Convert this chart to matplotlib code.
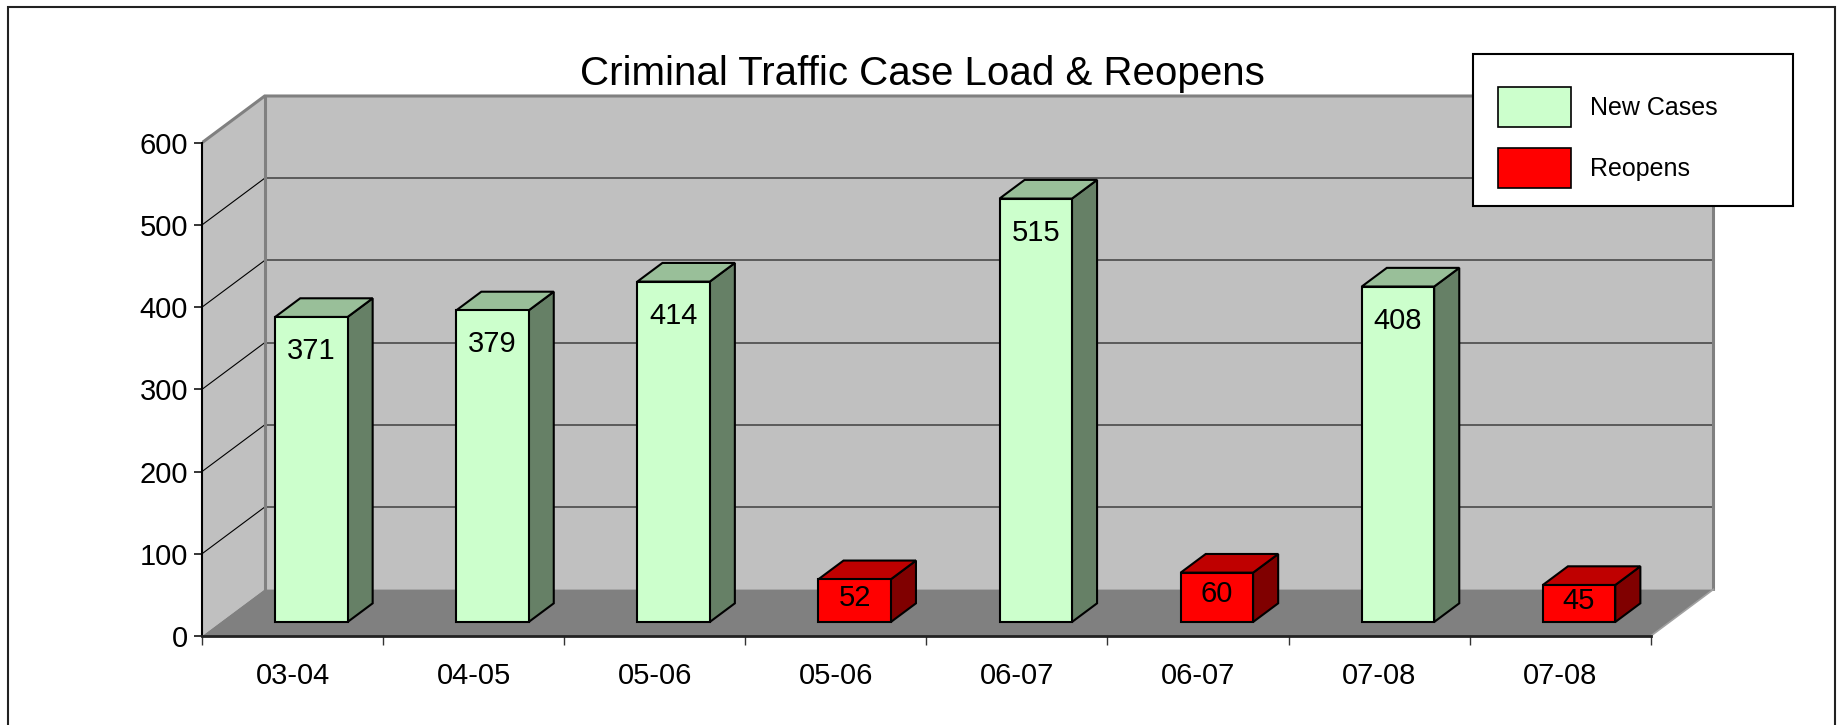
import matplotlib
matplotlib.use("Agg")
import matplotlib.pyplot as plt
from matplotlib.patches import Polygon, Rectangle, Patch

# ---------------- data ----------------
categories = ["03-04", "04-05", "05-06", "05-06", "06-07", "06-07", "07-08", "07-08"]
values = [371, 379, 414, 52, 515, 60, 408, 45]
series = ["New Cases", "New Cases", "New Cases", "Reopens",
          "New Cases", "Reopens", "New Cases", "Reopens"]
series_names = ["New Cases", "Reopens"]
y_ticks = [0, 100, 200, 300, 400, 500, 600]
title = "Criminal Traffic Case Load & Reopens"

# ---------------- styles ----------------
FACES = {"New Cases": ("#CCFFCC", "#99BF99", "#668066"),
         "Reopens": ("#FF0000", "#BF0000", "#800000")}
WALL = "#C0C0C0"
FLOOR = "#808080"
EDGE_GRAY = "#808080"

W, H, DPI = 1837, 725, 100
plt.rcParams["font.family"] = ["Liberation Sans", "DejaVu Sans"]

fig = plt.figure(figsize=(W / DPI, H / DPI), dpi=DPI)
fig.patch.set_facecolor("white")

# layout (pixels)
AX_LEFT_PX, AX_BOTTOM_PX = 202, 89
CAT_PX = 181.1
UNIT_PX = 493.3 / 600
XMAX, YMAX = 8.6, 660
ax = fig.add_axes([AX_LEFT_PX / W, AX_BOTTOM_PX / H,
                   XMAX * CAT_PX / W, YMAX * UNIT_PX / H])
ax.set_xlim(0, XMAX)
ax.set_ylim(0, YMAX)
ax.patch.set_visible(False)

DX = 62.7 / CAT_PX      # depth shift in category units
DY = 46.7 / UNIT_PX     # depth shift in value units
BAR_W = 0.4
Z0, Z1 = 0.3, 0.7

def proj(x, v, z):
    return (x + z * DX, v + z * DY)

n = len(categories)
vmax = y_ticks[-1]

# walls
side = Polygon([proj(0, 0, 0), proj(0, vmax, 0), proj(0, vmax, 1), proj(0, 0, 1)],
               closed=True, fc=WALL, ec="none", zorder=1)
back = Polygon([proj(0, 0, 1), proj(n, 0, 1), proj(n, vmax, 1), proj(0, vmax, 1)],
               closed=True, fc=WALL, ec="none", zorder=1)
ax.add_patch(side)
ax.add_patch(back)

# gridlines
for t in y_ticks[1:-1]:
    xa, ya = proj(0, t, 1)
    xb, yb = proj(n, t, 1)
    ax.plot([xa, xb], [ya, yb], color="#404040", lw=1.1, zorder=2, solid_capstyle="butt")
    xc, yc = proj(0, t, 0)
    ax.plot([xc, xa], [yc, ya], color="black", lw=0.8, zorder=2)

# wall edges
edge_pts = [
    [proj(0, vmax, 0), proj(0, vmax, 1), proj(n, vmax, 1), proj(n, 0, 1)],
    [proj(0, vmax, 1), proj(0, 0, 1)],
]
for pts in edge_pts:
    ax.plot([p[0] for p in pts], [p[1] for p in pts], color=EDGE_GRAY, lw=2.2,
            zorder=2.2, solid_joinstyle="miter")

# floor
floor = Polygon([proj(0, 0, 0), proj(n, 0, 0), proj(n, 0, 1), proj(0, 0, 1)],
                closed=True, fc=FLOOR, ec="none", zorder=3)
ax.add_patch(floor)
fa, fb = proj(n, 0, 0), proj(n, 0, 1)
ax.plot([fa[0], fb[0]], [fa[1], fb[1]], color="#A0A0A0", lw=1.2, zorder=3.1)

# bars
LABEL_OFF_PX = 34
for i, (v, s) in enumerate(zip(values, series)):
    cf, ct, cs = FACES[s]
    x0, x1 = i + 0.5 - BAR_W / 2, i + 0.5 + BAR_W / 2
    front = [proj(x0, 0, Z0), proj(x1, 0, Z0), proj(x1, v, Z0), proj(x0, v, Z0)]
    top = [proj(x0, v, Z0), proj(x1, v, Z0), proj(x1, v, Z1), proj(x0, v, Z1)]
    right = [proj(x1, 0, Z0), proj(x1, 0, Z1), proj(x1, v, Z1), proj(x1, v, Z0)]
    for pts, c in ((right, cs), (top, ct), (front, cf)):
        ax.add_patch(Polygon(pts, closed=True, fc=c, ec="black", lw=1.5,
                             joinstyle="miter", zorder=5))
    ly = v - min(LABEL_OFF_PX / UNIT_PX, 0.43 * v)
    lx, lyy = proj(i + 0.5, ly, Z0)
    ax.text(lx, lyy, str(v), ha="center", va="center", fontsize=21,
            color="black", zorder=6)

# axes / ticks
for sp in ("top", "right"):
    ax.spines[sp].set_visible(False)
ax.spines["left"].set_bounds(0, vmax)
ax.spines["left"].set_linewidth(1.5)
ax.spines["left"].set_zorder(4)
ax.spines["bottom"].set_bounds(0, n)
ax.spines["bottom"].set_linewidth(2.0)
ax.spines["bottom"].set_color("#222222")
ax.spines["bottom"].set_zorder(4)

ax.set_yticks(y_ticks)
ax.set_yticklabels([str(t) for t in y_ticks])
ax.tick_params(axis="y", direction="out", length=5.8, width=1.1, pad=4.3,
               labelsize=21, colors="black")

ax.set_xticks(list(range(n + 1)))
ax.set_xticklabels([""] * (n + 1))
ax.set_xticks([i + 0.5 for i in range(n)], minor=True)
ax.set_xticklabels(categories, minor=True)
ax.tick_params(axis="x", which="major", direction="out", length=6.3, width=1.0,
               color="#333333")
ax.tick_params(axis="x", which="minor", length=0, pad=19, labelsize=21)

# title
fig.text(922.5 / W, (H - 85) / H, title, ha="center", va="baseline", fontsize=29)

# legend
box = Rectangle((1472.7 / W, (H - 206) / H), (1793 - 1472.7) / W, 152 / H,
                transform=fig.transFigure, fc="white", ec="black", lw=1.5, zorder=4)
fig.patches.append(box)
handles = [Patch(fc=FACES[s][0], ec="black", lw=1.2) for s in series_names]
fig.legend(handles, series_names, loc="upper left",
           bbox_to_anchor=(1497.7 / W, (H - 87) / H), bbox_transform=fig.transFigure,
           frameon=False, borderpad=0, borderaxespad=0, handlelength=2.92,
           handleheight=2.085, handletextpad=0.77, labelspacing=0.84,
           prop={"family": ["Liberation Sans", "DejaVu Sans"], "size": 18})

# outer frame
frame = Rectangle((8 / W, -0.1), (1835 - 8) / W, (H - 7) / H + 0.1,
                  transform=fig.transFigure, fill=False, ec="#222222", lw=1.5, zorder=3)
fig.patches.append(frame)

fig.savefig("out.png", dpi=DPI)
